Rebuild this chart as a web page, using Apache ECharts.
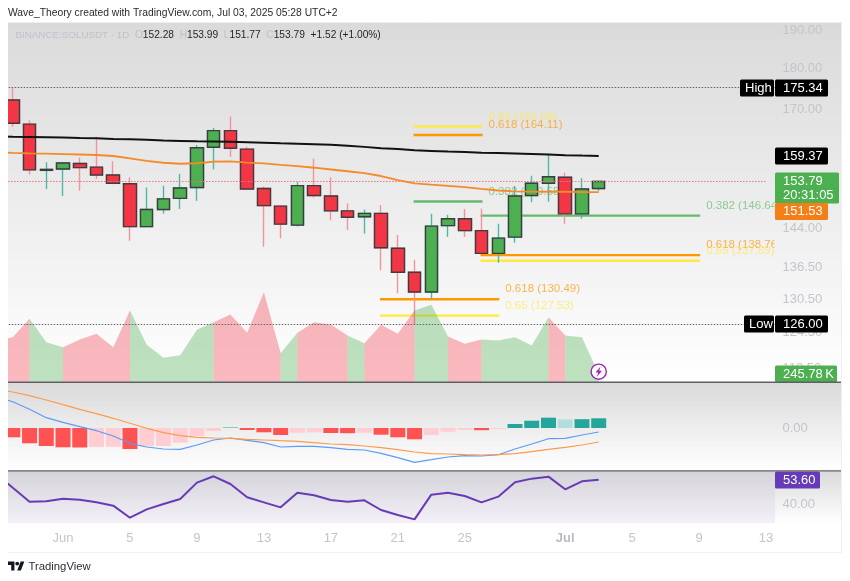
<!DOCTYPE html>
<html>
<head>
<meta charset="utf-8">
<script src="https://cdn.jsdelivr.net/npm/echarts@6/dist/echarts.min.js"></script>
<style>
html, body { margin: 0; background: #fff; }
#chart { width: 850px; height: 581px; }
</style>
</head>
<body>
<div id="chart"></div>
<script>
let categories = ['May 28','May 29','May 30','May 31','Jun 1','Jun 2','Jun 3','Jun 4','Jun 5','Jun 6','Jun 7','Jun 8','Jun 9','Jun 10','Jun 11','Jun 12','Jun 13','Jun 14','Jun 15','Jun 16','Jun 17','Jun 18','Jun 19','Jun 20','Jun 21','Jun 22','Jun 23','Jun 24','Jun 25','Jun 26','Jun 27','Jun 28','Jun 29','Jun 30','Jul 1','Jul 2','Jul 3','Jul 4','Jul 5','Jul 6','Jul 7','Jul 8','Jul 9','Jul 10','Jul 11','Jul 12','Jul 13']

// open, close, low, high
let candles = [
  [174.0,172.3,171.0,175.0],[172.3,166.8,166.0,175.34],[166.6,156.3,155.3,167.5],[156.2,156.4,152.2,158.0],
  [156.5,157.8,150.7,157.9],[157.7,156.8,151.8,159.0],[156.9,155.2,154.3,163.7],[155.2,153.4,153.2,158.2],
  [153.3,144.4,141.6,154.7],[144.4,147.9,144.3,152.5],[147.9,150.1,147.0,152.9],[150.2,152.4,148.0,155.4],
  [152.5,161.2,149.7,161.8],[161.3,165.1,156.4,165.7],[165.1,161.1,159.2,168.4],[160.9,152.2,152.1,161.4],
  [152.3,148.7,140.4,152.7],[148.6,144.9,142.1,148.8],[144.7,152.9,144.4,153.7],[152.9,150.8,150.4,158.8],
  [150.7,147.6,145.7,154.7],[147.6,146.3,143.7,149.2],[146.4,147.1,143.0,147.9],[147.1,140.2,135.8,148.8],
  [140.1,135.5,131.6,142.7],[135.5,131.8,126.0,137.9],[131.8,144.5,130.6,147.0],[144.6,146.0,142.3,146.8],
  [146.0,143.6,142.3,148.0],[143.6,139.1,139.0,148.1],[139.1,142.1,137.3,145.0],[142.3,150.7,141.2,152.8],
  [150.8,153.4,149.4,155.0],[153.4,154.8,149.5,159.9],[154.7,147.0,145.0,155.7],[147.0,152.2,146.0,154.5],
  [152.28,153.79,151.77,153.99]
]

let maBlack = [163.8,163.7,163.65,163.6,163.5,163.4,163.35,163.2,163.1,163.0,162.85,162.75,162.65,162.6,162.55,162.45,162.35,162.2,162.1,162.0,161.9,161.65,161.4,161.1,160.9,160.65,160.5,160.35,160.25,160.1,160.0,159.9,159.8,159.7,159.55,159.45,159.37]
let maOrange = [160.2,160.07,159.96,159.87,159.78,159.69,159.58,159.36,158.85,158.3,157.86,157.64,157.75,158.1,158.15,157.9,157.74,157.4,157.1,156.77,156.38,156.0,155.6,154.97,154.1,153.4,153.1,152.86,152.6,152.2,151.87,151.7,151.63,151.6,151.6,151.55,151.53]

// volume in K, side = colour of the stretch that starts at that day
let volume = [1272,1373,1936,1219,1066,1302,1477,1066,2191,1140,741,821,1599,1832,2068,1507,2751,882,1507,1832,1762,1425,1189,1753,1477,2191,2365,1394,1170,1302,1272,1373,1118,1985,1425,1373,245.78]
let volumeSide = ['r','r','g','g','r','r','r','r','g','g','g','g','g','r','r','r','r','g','r','r','r','g','r','r','r','g','g','r','r','g','g','g','g','r','g','g','g']

let macdHist = [-0.6,-0.93,-1.53,-1.8,-1.93,-1.95,-1.9,-1.88,-2.1,-1.83,-1.8,-1.47,-0.8,-0.3,0.05,-0.2,-0.43,-0.7,-0.47,-0.43,-0.5,-0.52,-0.47,-0.67,-0.93,-1.13,-0.7,-0.37,-0.2,-0.22,-0.1,0.4,0.73,1.03,0.87,0.88,0.97]
let macdLine = [3.13,2.63,1.87,1.03,0.57,0.13,-0.27,-0.8,-1.53,-1.9,-2.1,-2.13,-1.7,-1.2,-1.0,-1.23,-1.47,-1.9,-1.83,-1.83,-1.97,-2.13,-2.2,-2.53,-2.97,-3.43,-3.17,-2.9,-2.77,-2.8,-2.67,-2.1,-1.6,-1.07,-1.03,-0.7,-0.4]
let macdSignal = [3.87,3.6,3.23,2.8,2.33,1.87,1.43,0.97,0.47,-0.03,-0.47,-0.77,-0.93,-1.0,-1.03,-1.13,-1.2,-1.27,-1.33,-1.47,-1.6,-1.67,-1.8,-1.97,-2.17,-2.4,-2.57,-2.6,-2.67,-2.7,-2.67,-2.57,-2.37,-2.13,-1.93,-1.7,-1.4]

let rsi = [56.76,49.1,41.47,41.66,43.13,42.58,41.1,39.26,32.63,37.24,40.18,42.95,51.97,55.47,51.23,43.87,41.1,38.34,46.45,44.97,42.39,41.47,42.21,36.87,34.11,31.71,45.34,46.45,44.6,41.1,44.24,52.15,54.18,55.29,48.29,52.71,53.6]

let priceTicks = [190,180,170,144,136.5,130.5,124.5,118.5]
let macdTicks = [0]
let rsiTicks = [40]
let timeTicks = {'Jun 1':'Jun','Jun 5':'5','Jun 9':'9','Jun 13':'13','Jun 17':'17','Jun 21':'21','Jun 25':'25','Jul 1':'Jul','Jul 5':'5','Jul 9':'9','Jul 13':'13'}

let highPrice = 175.34
let lowPrice = 126.00
let lastPrice = 153.79

// fib levels: first day, last day, price, text, colour key
let fibStart = ['Jun 22','Jun 22','Jun 22','Jun 26','Jun 26','Jun 26','Jun 20','Jun 20']
let fibEnd = ['Jun 26','Jun 26','Jun 26','Jul 9','Jul 9','Jul 9','Jun 27','Jun 27']
let fibPrice = [166.08,164.11,149.55,146.64,138.76,137.69,130.49,127.53]
let fibText = ['0.65 (166.08)','0.618 (164.11)','0.382 (149.55)','0.382 (146.64)','0.618 (138.76)','0.65 (137.69)','0.618 (130.49)','0.65 (127.53)']
let fibKey = ['y','o','g','g','o','y','o','y']

let priceTagValues = [175.34,159.37,153.79,151.53,126.00]
let priceTagTexts = ['175.34','159.37','153.79\n20:31:05','151.53','126.00']
let volumeTagValues = [245.78]
let volumeTagTexts = ['245.78\u2009K']
let rsiTagValues = [53.6]
let rsiTagTexts = ['53.60']

// look of the tags on the right hand scale
let priceTagLook = [
  {fill:'#000', w:53, h:17, side:'High', sideW:34},
  {fill:'#000', w:53, h:17},
  {fill:'#4caf50', w:64, h:31, dy:0, pad:9},
  {fill:'#f57f17', w:53, h:17, dy:19.5},
  {fill:'#000', w:53, h:17, side:'Low', sideW:30}
]
let volumeTagLook = [{fill:'#4caf50', w:62, h:17}]
let rsiTagLook = [{fill:'#673ab7', w:45, h:17}]

let fontName = '"Liberation Sans", Arial, sans-serif'
let fibColor = {
  y: {line:'#ffeb3b', label:'rgba(255,230,70,.65)'},
  o: {line:'#ff9800', label:'rgba(255,152,0,.7)'},
  g: {line:'#66bb6a', label:'rgba(102,187,106,.7)'}
}

let indexOfDay = a => categories.indexOf(a)

// scale tags, y comes from the axis the tag belongs to
function tagRender(texts, looks) {
  return function (params, api) {
    let i = params.dataIndex
    let look = looks[i]
    let y = Math.round(api.coord([0, api.value(0)])[1]) + (look.dy || 0)
    let x = 775
    let top = y - 8.5
    let kids = [
      {type:'rect', shape:{x:x, y:top, width:look.w, height:look.h, r:1.5}, style:{fill:look.fill}},
      {type:'text', x:x + 8, y:top + (look.pad ? 15.5 : 8.5), style:{text:texts[i], fill:'#fff', font:'13px ' + fontName, verticalAlign:'middle', lineHeight:14}}
    ]
    if (look.side) {
      kids.push({type:'rect', shape:{x:x - look.sideW - 1, y:top, width:look.sideW, height:look.h, r:1.5}, style:{fill:look.fill}})
      kids.push({type:'text', x:x - look.sideW + 4, y:top + 8.5, style:{text:look.side, fill:'#fff', font:'13px ' + fontName, verticalAlign:'middle'}})
    }
    return {type:'group', children:kids}
  }
}

function tagSeries(name, xi, yi, values, texts, looks) {
  return {
    name: name, type: 'custom', xAxisIndex: xi, yAxisIndex: yi, z: 20, silent: true,
    encode: {y: 0}, data: values.map(a => [a]),
    renderItem: tagRender(texts, looks)
  }
}

// volume is one area per stretch of the same colour
let volumeSeries = []
{
  let start = 0
  for (let i = 1; i < volume.length; i++) {
    if (i === volume.length - 1 || volumeSide[i] !== volumeSide[start]) {
      let data = volume.map((a, k) => (k >= start && k <= i) ? a : null)
      let c = volumeSide[start] === 'r' ? 'rgba(242,54,69,.35)' : 'rgba(76,175,80,.36)'
      volumeSeries.push({
        name: 'Volume', type: 'line', xAxisIndex: 0, yAxisIndex: 1, data: data, symbol: 'none', silent: true,
        lineStyle: {width: 0}, areaStyle: {color: c, opacity: 1}
      })
      start = i
    }
  }
}

let pane = (x, y, w, h, c1, c2) => ({
  type: 'rect', z: -5, shape: {x: x, y: y, width: w, height: h},
  style: {fill: new echarts.graphic.LinearGradient(0, 0, 0, 1, [{offset: 0, color: c1}, {offset: 1, color: c2}])}
})
let rule = (y) => ({type: 'rect', z: 30, shape: {x: 8, y: y, width: 833, height: 1.3}, style: {fill: '#5f5f64'}})

let xAxisOf = (grid, show) => ({
  type: 'category', gridIndex: grid, data: categories, boundaryGap: true,
  axisLine: {show: false}, axisTick: {show: false}, splitLine: {show: false},
  axisLabel: !show ? {show: false} : {
    interval: (i, v) => timeTicks[v] !== undefined,
    hideOverlap: false, margin: 9,
    formatter: v => v === 'Jul 1' ? '{b|Jul}' : timeTicks[v],
    color: '#c4c5cc', fontFamily: fontName, fontSize: 13,
    rich: {b: {color: '#b9bac2', fontWeight: 'bold', fontFamily: fontName, fontSize: 13}}
  }
})
let yLabel = (ticks) => ({
  show: true, customValues: ticks, margin: 8, color: '#c4c5cc', fontFamily: fontName, fontSize: 13,
  formatter: v => Number(v).toFixed(2)
})
let plainY = {axisLine: {show: false}, axisTick: {show: false}, splitLine: {show: false}}

let chart = echarts.init(document.querySelector('#chart'), null, {renderer: 'canvas'})
chart.setOption({
  animation: false,
  backgroundColor: '#fff',
  grid: [
    {left: -12.31, top: 23, width: 786.78, height: 359, outerBoundsMode: 'none'},
    {left: -12.31, top: 383, width: 786.78, height: 87, outerBoundsMode: 'none'},
    {left: -12.31, top: 471, width: 786.78, height: 52, outerBoundsMode: 'none'}
  ],
  xAxis: [xAxisOf(0, false), xAxisOf(1, false), xAxisOf(2, true)],
  yAxis: [
    {type: 'log', gridIndex: 0, position: 'right', min: 116.25, max: 191.86, ...plainY, axisLabel: yLabel(priceTicks)},
    {type: 'value', gridIndex: 0, position: 'left', min: 0, max: 11000, show: false},
    {type: 'value', gridIndex: 1, position: 'right', min: -4.2, max: 4.5, ...plainY, axisLabel: yLabel(macdTicks)},
    {type: 'value', gridIndex: 2, position: 'right', min: 29.7, max: 58.4, ...plainY, axisLabel: yLabel(rsiTicks)}
  ],
  graphic: [
    pane(8, 23, 833, 359, '#dadada', '#ffffff'),
    pane(8, 383, 833, 87, '#dadada', '#ffffff'),
    pane(775, 471, 66, 52, '#dadada', '#ffffff'),
    pane(8, 471, 767, 52, '#d5d3da', '#f3f0f8'),
    rule(381.6), rule(470.2),
    {type: 'rect', z: -6, shape: {x: 7.5, y: 22.5, width: 834, height: 530}, style: {fill: '#fff', stroke: '#efeff1', lineWidth: 1}},
    {type: 'rect', z: 40, shape: {x: 0, y: 0, width: 8, height: 581}, style: {fill: '#fff'}},
    {type: 'text', z: 50, x: 8, y: 13, style: {text: 'Wave_Theory created with TradingView.com, Jul 03, 2025 05:28 UTC+2', fill: '#2a2a2a', font: '10.3px ' + fontName, verticalAlign: 'middle'}},
    {type: 'text', z: 50, x: 15.5, y: 35.5, style: {
      text: '{n|BINANCE:SOLUSDT · 1D}{k|  O}{v|152.28}{k|  H}{v|153.99}{k|  L}{v|151.77}{k|  C}{v|153.79}{v|  +1.52 (+1.00%)}',
      verticalAlign: 'middle',
      rich: {
        n: {fill: '#c0c1cb', color: '#c0c1cb', font: '9.8px ' + fontName},
        k: {fill: '#c0c1cb', color: '#c0c1cb', font: '10.2px ' + fontName},
        v: {fill: '#26262a', color: '#26262a', font: '10.2px ' + fontName}
      }
    }},
    {type: 'circle', z: 35, shape: {cx: 598.7, cy: 371.7, r: 7.6}, style: {fill: '#fff', stroke: '#9c27b0', lineWidth: 1.4}},
    {type: 'polygon', z: 36, shape: {points: [[600.5,366.5],[595.5,372.5],[598.3,372.5],[596.8,377],[602,370.8],[599.2,370.8]]}, style: {fill: '#9c27b0'}},
    // TradingView logo
    {type: 'polygon', z: 50, shape: {points: [[8,561.6],[14.44,561.6],[14.44,570.6],[11.22,570.6],[11.22,565.1],[8,565.1]]}, style: {fill: '#131722'}},
    {type: 'polygon', z: 50, shape: {points: [[17.2,570.6],[20.65,561.6],[24.33,561.6],[20.88,570.6]]}, style: {fill: '#131722'}},
    {type: 'circle', z: 50, shape: {cx: 17.2, cy: 563.6, r: 1.9}, style: {fill: '#131722'}},
    {type: 'text', z: 50, x: 28.5, y: 566.5, style: {text: 'TradingView', fill: '#2a2e39', font: '11.3px ' + fontName, verticalAlign: 'middle'}}
  ],
  series: [
    ...volumeSeries,
    {
      name: 'Fib labels', type: 'custom', xAxisIndex: 0, yAxisIndex: 0, silent: true,
      encode: {x: 0, y: 1},
      data: fibEnd.map((a, i) => [indexOfDay(a), fibPrice[i]]),
      renderItem: function (params, api) {
        let i = params.dataIndex
        let p = api.coord([api.value(0), api.value(1)])
        let c = params.coordSys
        return {
          type: 'group', x: p[0] + 7, y: p[1] - 10,
          clipPath: {type: 'rect', shape: {x: 0, y: -20, width: c.x + c.width - p[0] - 7, height: 40}},
          children: [{type: 'text', style: {text: fibText[i], fill: fibColor[fibKey[i]].label, font: '11.5px ' + fontName, verticalAlign: 'middle'}}]
        }
      }
    },
    {name: 'Last price', type: 'line', xAxisIndex: 0, yAxisIndex: 0, data: categories.map(() => lastPrice), symbol: 'none', silent: true, lineStyle: {color: '#f0737e', type: [1.5, 1.5], width: 1}},
    {name: 'MA black', type: 'line', xAxisIndex: 0, yAxisIndex: 0, data: maBlack, symbol: 'none', silent: true, lineStyle: {color: '#111', width: 2}},
    {name: 'MA orange', type: 'line', xAxisIndex: 0, yAxisIndex: 0, data: maOrange, symbol: 'none', silent: true, lineStyle: {color: '#f58a2a', width: 1.8}},
    {
      // wicks have their own colours, the bodies go on top in the next series
      name: 'SOLUSDT wicks', type: 'candlestick', xAxisIndex: 0, yAxisIndex: 0, barWidth: 13, silent: true,
      data: candles,
      itemStyle: {color: '#4caf50', color0: '#f23645', borderColor: '#4fb9a5', borderColor0: '#f5939c', borderWidth: 1.4},
      markLine: {
        silent: true, symbol: 'none', label: {show: false}, animation: false,
        lineStyle: {color: '#666', type: [1.5, 1.5], width: 1},
        data: [{yAxis: highPrice}, {yAxis: lowPrice}]
      }
    },
    {
      name: 'SOLUSDT bodies', type: 'candlestick', xAxisIndex: 0, yAxisIndex: 0, barWidth: 13, silent: true,
      data: candles.map(a => [a[0], a[1], Math.min(a[0], a[1]), Math.max(a[0], a[1])]),
      itemStyle: {color: '#4caf50', color0: '#f23645', borderColor: '#3d3d40', borderColor0: '#3d3d40', borderWidth: 1.4}
    },
    {
      name: 'Fib lines', type: 'custom', xAxisIndex: 0, yAxisIndex: 0, silent: true,
      encode: {x: [0, 1], y: 2},
      data: fibPrice.map((a, i) => [indexOfDay(fibStart[i]), indexOfDay(fibEnd[i]), a]),
      renderItem: function (params, api) {
        let a = api.coord([api.value(0), api.value(2)])
        let b = api.coord([api.value(1), api.value(2)])
        return {
          type: 'line', shape: {x1: a[0] - 1, y1: a[1], x2: b[0] + 1, y2: b[1]},
          style: {stroke: fibColor[fibKey[params.dataIndex]].line, lineWidth: 2.4}
        }
      }
    },
    {
      name: 'MACD histogram', type: 'bar', xAxisIndex: 1, yAxisIndex: 2, barWidth: 15, silent: true,
      data: macdHist,
      itemStyle: {
        color: function (p) {
          let prev = p.dataIndex > 0 ? macdHist[p.dataIndex - 1] : p.value
          if (p.value >= 0) return p.value >= prev ? '#26a69a' : '#b2dfdb'
          return p.value <= prev ? '#ff5252' : '#ffcdd2'
        }
      }
    },
    {name: 'MACD', type: 'line', xAxisIndex: 1, yAxisIndex: 2, data: macdLine, symbol: 'none', silent: true, lineStyle: {color: '#5b9cf6', width: 1.2}},
    {name: 'Signal', type: 'line', xAxisIndex: 1, yAxisIndex: 2, data: macdSignal, symbol: 'none', silent: true, lineStyle: {color: '#ff9a4d', width: 1.2}},
    {name: 'RSI', type: 'line', xAxisIndex: 2, yAxisIndex: 3, data: rsi, symbol: 'none', silent: true, lineStyle: {color: '#673ab7', width: 2}},
    tagSeries('Price tags', 0, 0, priceTagValues, priceTagTexts, priceTagLook),
    tagSeries('Volume tag', 0, 1, volumeTagValues, volumeTagTexts, volumeTagLook),
    tagSeries('RSI tag', 2, 3, rsiTagValues, rsiTagTexts, rsiTagLook)
  ]
})
</script>
</body>
</html>
